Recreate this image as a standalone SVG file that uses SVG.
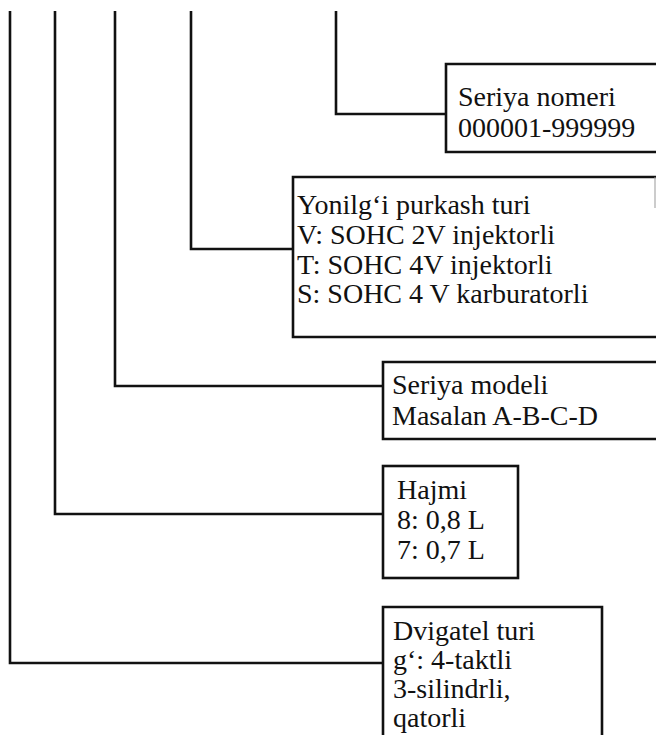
<svg xmlns="http://www.w3.org/2000/svg" width="656" height="735" viewBox="0 0 656 735">
<style>
.box{fill:none;stroke:#111;stroke-width:2.6}
.conn{fill:none;stroke:#111;stroke-width:2.6;stroke-linejoin:miter}
text{font-family:"Liberation Serif","Times New Roman",serif;font-size:28px;fill:#111}
</style>
<rect width="656" height="735" fill="#fff"/>
<g id="connectors">
<path class="conn" d="M10,11 V663 H383"/>
<path class="conn" d="M55,11 V514 H383"/>
<path class="conn" d="M115,11 V386 H383"/>
<path class="conn" d="M191,11 V249 H293"/>
<path class="conn" d="M336,11 V114 H446"/>
</g>
<g id="seriya-nomeri">
<path class="box" d="M660,64 H446 V152 H660"/>
<text x="458" y="106">Seriya nomeri</text>
<text x="458" y="137">000001-999999</text>
</g>
<g id="yonilgi">
<path class="box" d="M660,177 H293 V337 H660"/>
<line x1="655" y1="177" x2="655" y2="208" stroke="#999" stroke-width="1"/>
<text x="297" y="214">Yonilg‘i purkash turi</text>
<text x="297" y="244">V: SOHC 2V injektorli</text>
<text x="297" y="274">T: SOHC 4V injektorli</text>
<text x="297" y="303">S: SOHC 4 V karburatorli</text>
</g>
<g id="seriya-modeli">
<path class="box" d="M660,362 H383 V439 H660"/>
<text x="392" y="394">Seriya modeli</text>
<text x="392" y="425">Masalan A-B-C-D</text>
</g>
<g id="hajmi">
<rect class="box" x="383" y="466" width="135" height="112"/>
<text x="397" y="499">Hajmi</text>
<text x="397" y="529">8: 0,8 L</text>
<text x="397" y="559">7: 0,7 L</text>
</g>
<g id="dvigatel">
<path class="box" d="M383,740 V607 H602 V740"/>
<text x="393" y="640">Dvigatel turi</text>
<text x="393" y="669">g‘: 4-taktli</text>
<text x="393" y="698">3-silindrli,</text>
<text x="393" y="727">qatorli</text>
</g>
</svg>
